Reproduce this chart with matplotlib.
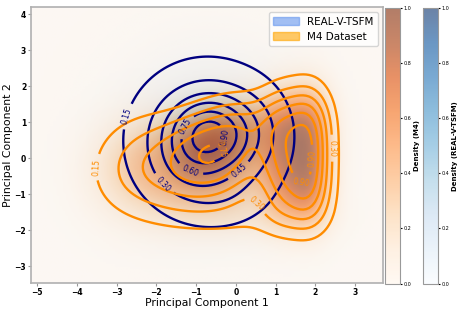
import numpy as np
import matplotlib.pyplot as plt
from matplotlib.patches import Patch

# limites de los ejes
x_lim = (-5.15, 3.7)
y_lim = (-3.47, 4.2)

# densidad REAL-V-TSFM como mezcla de gaussianas: centro, anchos, peso
real_cx = [-0.65, -0.72, 0.6, -0.3, -1.2]
real_cy = [0.68, 0.5, 0.8, -1.2, -0.2]
real_sx = [0.7, 1.45, 0.5, 0.8, 0.6]
real_sy = [0.7, 1.6, 0.8, 0.5, 0.6]
real_w = [0.6, 0.45, 0.06, 0.05, 0.12]

# densidad M4: nucleo (columnas x filas) + cola hacia la izquierda
m4_nucleo_x = [1.85, 1.15]
m4_nucleo_wx = [1.0, 0.6]
m4_nucleo_y = [-1.15, -0.35, 0.45, 1.25]
m4_nucleo_sx = 0.4
m4_nucleo_sy = 0.7

m4_cola_cx = [0.2, -0.7, -1.7, -2.8, 0.2, -1.0, -2.3, 0.2]
m4_cola_cy = [0.0, -0.3, -0.7, -0.4, 1.0, 0.5, 0.3, -1.7]
m4_cola_sx = [0.8, 0.8, 0.8, 0.75, 0.8, 0.8, 0.7, 1.3]
m4_cola_sy = [0.9, 0.8, 0.8, 0.9, 0.6, 0.6, 0.8, 0.45]
m4_cola_w = [0.25, 0.42, 0.24, 0.19, 0.3, 0.25, 0.12, 0.1]

niveles = [0.15, 0.30, 0.45, 0.60, 0.75, 0.90]

# posiciones aproximadas de las etiquetas de los contornos
pos_real = [(-2.66, 1.14), (-1.78, -0.67), (0.1, -0.38), (-1.16, -0.38), (-1.23, 0.86), (-0.28, 0.58)]
pos_m4 = [(-3.42, -0.25), (2.46, 0.28), (0.53, -1.25), (-0.2, 0.25), (1.66, -0.61), (1.9, 0.0)]


def gauss(X, Y, a, b, c, d):
    return np.exp(-0.5 * (((X - a) / c) ** 2 + ((Y - b) / d) ** 2))


xs = np.linspace(x_lim[0], x_lim[1], 120)
ys = np.linspace(y_lim[0], y_lim[1], 110)
X, Y = np.meshgrid(xs, ys)

Z_real = np.zeros_like(X)
for a, b, c, d, e in zip(real_cx, real_cy, real_sx, real_sy, real_w):
    Z_real += e * gauss(X, Y, a, b, c, d)
Z_real /= Z_real.max()

# el nucleo se normaliza a 1 y la cola se suma en esas unidades
nucleo = np.zeros_like(X)
for a, e in zip(m4_nucleo_x, m4_nucleo_wx):
    for b in m4_nucleo_y:
        nucleo += e * gauss(X, Y, a, b, m4_nucleo_sx, m4_nucleo_sy)
Z_m4 = nucleo / nucleo.max()
for a, b, c, d, e in zip(m4_cola_cx, m4_cola_cy, m4_cola_sx, m4_cola_sy, m4_cola_w):
    Z_m4 += e * gauss(X, Y, a, b, c, d)
Z_m4 /= Z_m4.max()

fig = plt.figure(figsize=(4.65, 3.1), dpi=100)
ax = fig.add_axes([0.0667, 0.087, 0.757, 0.89])
cax1 = fig.add_axes([0.828, 0.085, 0.032, 0.89])
cax2 = fig.add_axes([0.91, 0.085, 0.032, 0.89])

ext = [x_lim[0], x_lim[1], y_lim[0], y_lim[1]]
im_real = ax.imshow(Z_real, extent=ext, origin='lower', cmap='Blues', alpha=0.6,
                    aspect='auto', vmin=0, vmax=1, interpolation='bilinear')
im_m4 = ax.imshow(Z_m4, extent=ext, origin='lower', cmap='Oranges', alpha=0.6,
                  aspect='auto', vmin=0, vmax=1, interpolation='bilinear')

cs1 = ax.contour(X, Y, Z_real, levels=niveles, colors='navy', linewidths=1.7)
ax.clabel(cs1, fmt='%.2f', fontsize=5.5, inline=True, manual=pos_real)
cs2 = ax.contour(X, Y, Z_m4, levels=niveles, colors='darkorange', linewidths=1.7)
ax.clabel(cs2, fmt='%.2f', fontsize=5.5, inline=True, manual=pos_m4)

ax.set_xlim(x_lim)
ax.set_ylim(y_lim)
ax.set_xticks(range(-5, 4))
ax.set_yticks(range(-3, 5))
ax.tick_params(labelsize=5.5, length=2, color='#999999', pad=1.5)
for lab in ax.get_xticklabels() + ax.get_yticklabels():
    lab.set_fontweight('bold')
for s in ax.spines.values():
    s.set_color('#b0b0b0')
    s.set_linewidth(1.2)
ax.set_xlabel('Principal Component 1', fontsize=7.8, labelpad=1)
ax.set_ylabel('Principal Component 2', fontsize=7.8, labelpad=1)

ax.legend(handles=[Patch(color='cornflowerblue', alpha=0.6, label='REAL-V-TSFM'),
                   Patch(color='orange', alpha=0.6, label='M4 Dataset')],
          loc='upper right', fontsize=7.5, handlelength=2.5)

for im, cax, nombre in [(im_m4, cax1, 'Density (M4)'), (im_real, cax2, 'Density (REAL-V-TSFM)')]:
    cb = fig.colorbar(im, cax=cax)
    cb.set_ticks([0.0, 0.2, 0.4, 0.6, 0.8, 1.0])
    cb.ax.tick_params(labelsize=3.5, length=1.5, pad=1)
    cb.outline.set_edgecolor('#999999')
    cb.set_label(nombre, fontsize=5, fontweight='bold', labelpad=2)

fig.savefig('out.png', dpi=100)
